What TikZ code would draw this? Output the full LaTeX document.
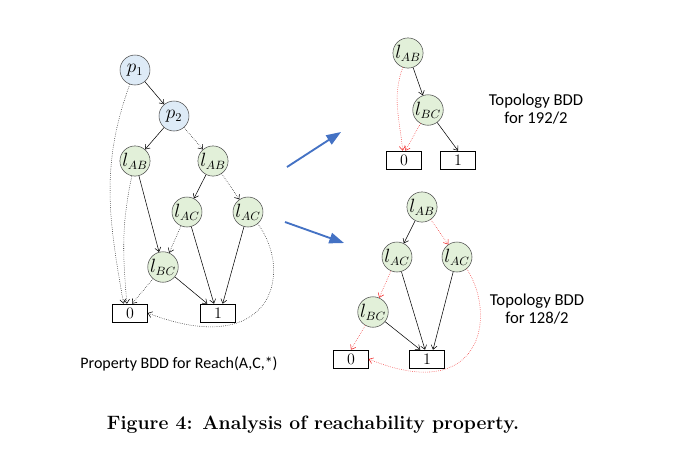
\documentclass[tikz,border=0pt]{standalone}
\usepackage{fontspec}
\newfontfamily\carlito{Carlito}
\usepackage{xcolor}
\usetikzlibrary{arrows.meta}
\definecolor{pfill}{RGB}{222,235,247}
\definecolor{lfill}{RGB}{226,240,217}
\definecolor{arrowblue}{RGB}{68,114,196}
\definecolor{dotred}{RGB}{240,30,30}

\begin{document}
\begin{tikzpicture}[x=0.75pt, y=-0.75pt,
  >={Straight Barb[length=3pt,width=4.5pt]},
  var/.style={circle, draw=black!70, minimum size=22.5pt, inner sep=0pt, font=\fontsize{13.5}{15}\selectfont},
  pvar/.style={var, fill=pfill},
  lvar/.style={var, fill=lfill},
  term/.style={draw, minimum width=26pt, minimum height=13.5pt, inner sep=0pt, font=\fontsize{12}{13}\selectfont},
  hi/.style={->, thin},
  lo/.style={->, densely dotted, thin},
  lored/.style={->, densely dotted, thin, dotred},
  move/.style={-{Triangle[length=11pt,width=8pt]}, line width=1.4pt, arrowblue},
  lbl/.style={font=\carlito\fontsize{12.5}{14}\selectfont, align=center}]
  \useasboundingbox (0,0) rectangle (684,462);
  % Property BDD
  \node[pvar] (p1) at (135,70) {$p_1$};
  \node[pvar] (p2) at (174,116) {$p_2$};
  \node[lvar] (lab1) at (135,161) {$l_{AB}$};
  \node[lvar] (lab2) at (213,161) {$l_{AB}$};
  \node[lvar] (lac1) at (187,212) {$l_{AC}$};
  \node[lvar] (lac2) at (248,212) {$l_{AC}$};
  \node[lvar] (lbc) at (163,267) {$l_{BC}$};
  \node[term] (L0) at (130,313) {0};
  \node[term] (L1) at (218,313) {1};
  \draw[hi] (p1) -- (p2);
  \draw[lo] (p1) to[out=250,in=100] ([xshift=-4.8pt]L0.north);
  \draw[hi] (p2) -- (lab1);
  \draw[lo] (p2) -- (lab2);
  \draw[hi] (lab1) -- (lbc);
  \draw[lo] (lab1) to[out=258,in=95] ([xshift=-2.3pt]L0.north);
  \draw[hi] (lab2) -- (lac1);
  \draw[lo] (lab2) -- (lac2);
  \draw[lo] (lac1) -- (lbc);
  \draw[hi] (lac1) -- ([xshift=-3pt]L1.north);
  \draw[hi] (lac2) -- ([xshift=3.5pt]L1.north);
  \draw[lo] (lac2.-50) .. controls (295,275) and (270,360) .. (L0.east);
  \draw[lo] (lbc) -- ([xshift=1.5pt]L0.north);
  \draw[hi] (lbc) -- ([xshift=-8pt]L1.north);
  \node[lbl, font=\carlito\fontsize{12}{14}\selectfont] (plbl) at (179,364) {Property BDD for Reach(A,C,*)};
  % Moves
  \coordinate (m1s) at (287,167);
  \coordinate (m1e) at (341,132);
  \coordinate (m2s) at (285,222);
  \coordinate (m2e) at (344,243);
  \draw[move] (m1s) -- (m1e);
  \draw[move] (m2s) -- (m2e);
  % Topology BDD for 192/2
  \node[lvar] (tab) at (408,53) {$l_{AB}$};
  \node[lvar] (tbc) at (428,110) {$l_{BC}$};
  \node[term] (T0) at (404,160) {0};
  \node[term] (T1) at (458,160) {1};
  \draw[hi] (tab) -- (tbc);
  \draw[lored] (tab) to[out=250,in=95] ([xshift=-1pt]T0.north);
  \draw[lored] (tbc) -- ([xshift=1pt]T0.north);
  \draw[hi] (tbc) -- (T1.north);
  \node[lbl] (tlbl) at (536,109) {Topology BDD\\for 192/2};
  % Topology BDD for 128/2
  \node[lvar] (bab) at (422,207) {$l_{AB}$};
  \node[lvar] (bac1) at (397,257) {$l_{AC}$};
  \node[lvar] (bac2) at (457,257) {$l_{AC}$};
  \node[lvar] (bbc) at (373,312) {$l_{BC}$};
  \node[term] (B0) at (351,359) {0};
  \node[term] (B1) at (427,359) {1};
  \draw[hi] (bab) -- (bac1);
  \draw[lored] (bab) -- (bac2);
  \draw[lored] (bac1) -- (bbc);
  \draw[hi] (bac1) -- ([xshift=-1.5pt]B1.north);
  \draw[hi] (bac2) -- ([xshift=4.5pt]B1.north);
  \draw[lored] (bac2.-50) .. controls (498,318) and (480,405) .. (B0.east);
  \draw[lored] (bbc) -- (B0.north);
  \draw[hi] (bbc) -- ([xshift=-5pt]B1.north);
  \node[lbl] (blbl) at (537,309) {Topology BDD\\for 128/2};
  % Caption
  \node[font=\bfseries\fontsize{14.5}{16}\selectfont] (cap) at (313,425) {Figure 4: Analysis of reachability property.};
\end{tikzpicture}
\end{document}
